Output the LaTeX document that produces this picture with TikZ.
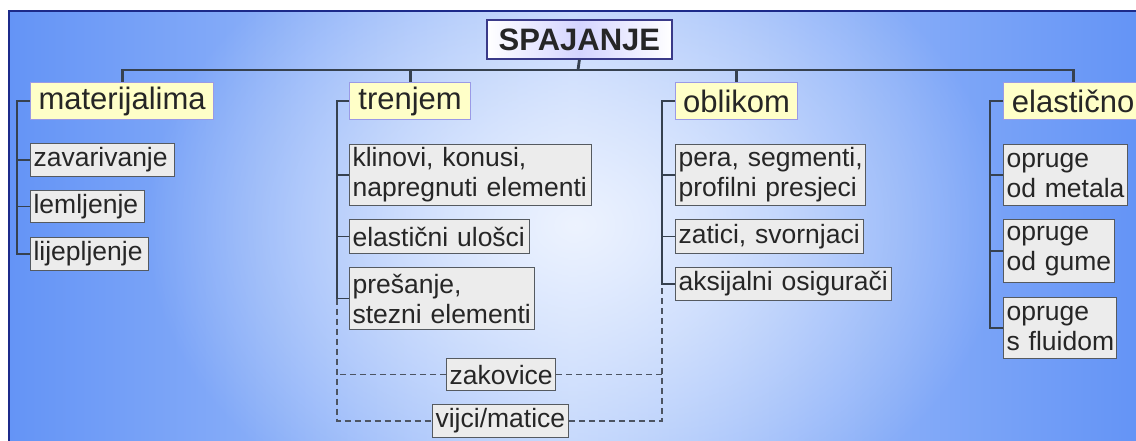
\documentclass[tikz,border=0pt]{standalone}
\usepackage{fontspec}
\setmainfont{Liberation Sans}
\usetikzlibrary{fadings}
\tikzfading[name=centerglow, inner color=transparent!0, outer color=transparent!100]
\definecolor{edgeblue}{HTML}{6494F6}
\definecolor{midblue}{HTML}{B3CCFB}
\definecolor{centerwhite}{HTML}{EDF3FF}
\definecolor{panelborder}{HTML}{1C2A8A}
\definecolor{txt}{HTML}{262626}
\definecolor{subfill}{HTML}{ECECEC}
\definecolor{subline}{HTML}{555A60}
\definecolor{headfill}{HTML}{FFFFC8}
\definecolor{headline}{HTML}{9A9AE6}
\definecolor{titleline}{HTML}{3A3A88}
\definecolor{titlemid}{HTML}{D4D4FF}
\definecolor{connline}{HTML}{36414F}
\definecolor{dashline}{HTML}{4C5462}
\newcommand\nohyph{\hyphenpenalty=10000\relax\lefthyphenmin=64\relax\hbadness=10000\relax\hfuzz=30pt\relax}
\newcommand\mybox[7]{%
  \pgfmathsetmacro\bw{#5-#3}\pgfmathsetmacro\bh{#6-#4}\pgfmathsetmacro\tw{\bw-6}%
  \node[#1, minimum width=\bw pt, minimum height=\bh pt, text width=\tw pt] (#2) at (#3,#4) {\nohyph #7};}
\tikzset{
  basebox/.style={anchor=north west, inner xsep=3pt, inner ysep=0pt, text=txt},
  subbox/.style={basebox, align=left, draw=subline, fill=subfill, line width=1.2pt, font=\fontsize{26.5}{30}\selectfont},
  headbox/.style={basebox, align=center, draw=headline, fill=headfill, line width=1.2pt, font=\fontsize{31}{34}\selectfont},
  titlebox/.style={basebox, align=center, draw=titleline, line width=1.8pt, left color=white, right color=white, middle color=titlemid, font=\fontsize{31}{34}\selectfont\bfseries},
  conn/.style={draw=connline, line width=1.7pt},
  busline/.style={draw=connline, line width=2.8pt},
  dashconn/.style={draw=dashline, line width=1.5pt, dash pattern=on 6pt off 4pt},
}
\begin{document}
\begin{tikzpicture}[x=1pt,y=-1pt]
\useasboundingbox (0,0) rectangle (1136,441);
% background panel
\fill[white] (0,0) rectangle (1136,441);
\fill[left color=edgeblue, right color=edgeblue, middle color=midblue] (9,11) rectangle (1136,441);
\begin{scope}
  \clip (9,11) rectangle (1136,441);
  \fill[centerwhite, path fading=centerglow] (575,225) ellipse [x radius=430, y radius=330];
\end{scope}
\draw[panelborder, line width=1.2pt] (9,441) -- (9,11) -- (1136,11);

% nodes
\mybox{titlebox}{title}{486}{19}{671}{58}{SPAJANJE}
\mybox{headbox}{mat}{30}{82}{213}{119}{materijalima}
\mybox{headbox}{tren}{349}{82}{470}{119}{trenjem}
\mybox{headbox}{obl}{675}{82}{797}{119}{oblikom}
\mybox{headbox}{elas}{1003}{82}{1142}{119}{elastično}

\mybox{subbox}{zav}{30}{143}{174}{176}{zavarivanje}
\mybox{subbox}{lem}{30}{190}{144}{222}{lemljenje}
\mybox{subbox}{lij}{30}{237}{148}{270}{lijepljenje}

\mybox{subbox}{klin}{349}{144}{591}{205}{klinovi,~konusi,\\napregnuti~elementi}
\mybox{subbox}{elu}{349}{219}{529}{253}{elastični~ulošci}
\mybox{subbox}{pres}{349}{267}{534}{329}{prešanje,\\stezni~elementi}

\mybox{subbox}{pera}{675}{144}{865}{205}{pera,~segmenti,\\profilni~presjeci}
\mybox{subbox}{zat}{675}{219}{863}{253}{zatici,~svornjaci}
\mybox{subbox}{aks}{675}{267}{891}{300}{aksijalni~osigurači}

\mybox{subbox}{om}{1003}{144}{1127}{205}{opruge\\od~metala}
\mybox{subbox}{og}{1003}{219}{1114}{282}{opruge\\od~gume}
\mybox{subbox}{of}{1003}{297}{1116}{358}{opruge\\s~fluidom}

\coordinate (bus) at (578,70);
\coordinate (railM) at (17,0);
\coordinate (railT) at (337,0);
\coordinate (railO) at (662,0);
\coordinate (railE) at (990,0);

% connectors: top
\draw[busline] (title.south) -- (bus);
\draw[busline] (mat.north) -- (mat.north |- bus) -- (elas.north |- bus) -- (elas.north);
\draw[busline] (tren.north) -- (tren.north |- bus);
\draw[busline] (obl.north) -- (obl.north |- bus);

% column 1
\draw[conn] (mat.west) -- (mat.west -| railM) |- (lij.west);
\draw[conn] (zav.west) -- (zav.west -| railM);
\draw[conn] (lem.west) -- (lem.west -| railM);
% column 2
\draw[conn] (tren.west) -- (tren.west -| railT) |- (pres.west);
\draw[conn] (klin.west) -- (klin.west -| railT);
\draw[conn] (elu.west) -- (elu.west -| railT);
% column 3
\draw[conn] (obl.west) -- (obl.west -| railO) |- (aks.west);
\draw[conn] (pera.west) -- (pera.west -| railO);
\draw[conn] (zat.west) -- (zat.west -| railO);
% column 4
\draw[conn] (elas.west) -- (elas.west -| railE) |- (of.west);
\draw[conn] (om.west) -- (om.west -| railE);
\draw[conn] (og.west) -- (og.west -| railE);

% dashed links
\mybox{subbox}{zak}{446}{358}{555}{390}{zakovice}
\mybox{subbox}{vij}{432}{404}{568}{437}{vijci/matice}
\draw[dashconn] (pres.west -| railT) -- (railT |- vij.west) -- (vij.west);
\draw[dashconn] (vij.east) -- (railO |- vij.east) -- (aks.west -| railO);
\draw[dashconn] (zak.west) -- (zak.west -| railT);
\draw[dashconn] (zak.east) -- (zak.east -| railO);
\end{tikzpicture}
\end{document}
